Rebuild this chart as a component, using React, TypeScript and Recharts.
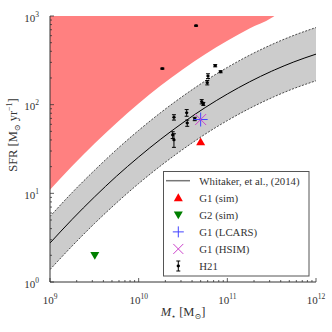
import React from 'react';
import { ComposedChart, Area, Line, Scatter, XAxis, YAxis, ErrorBar, Legend } from 'recharts';

// ---- Data ----
const massGrid = [1e9, 1.778e9, 3.162e9, 5.623e9, 1e10, 1.778e10, 3.162e10, 5.623e10, 1e11, 1.778e11, 3.162e11, 3.39e11, 5.623e11, 1e12];
const whitakerMid = [2.75, 5.09, 9.07, 15.6, 25.7, 40.9, 62.7, 92.7, 131.8, 180.7, 238.5, 246, 303.4, 371.5];
const whitakerUpper = [5.49, 10.2, 18.1, 31.1, 51.3, 81.6, 125, 185, 263, 361, 476, 491, 605, 741];
const whitakerLower = [1.38, 2.55, 4.55, 7.8, 12.9, 20.5, 31.4, 46.5, 66.1, 90.6, 119.5, 123.3, 152, 186];
const excludedLower: (number | null)[] = [11.0, 20.3, 36.3, 62.2, 103, 164, 251, 371, 527, 723, 954, 1000, null, null];
const SFR_MAX = 1000;

const h21Mass = [4.44e10, 1.85e10, 7.3e10, 8.4e10, 6.05e10, 5.94e10, 5.14e10, 5.36e10, 2.5e10, 3.48e10, 3.53e10, 4.29e10, 2.42e10, 2.5e10];
const h21Sfr = [777, 255, 275, 235, 210, 177, 108, 102, 72, 81, 62, 69, 45.5, 40];
const h21Err = [10, 4, 8, 6, 13, 10, 6, 4, 5, 7, 5, 3, 4, 7];

const g1SimMass = [5.0e10];
const g1SimSfr = [38];
const g2SimMass = [3.2e9];
const g2SimSfr = [2.0];
const g1LcarsMass = [5.0e10];
const g1LcarsSfr = [68];
const g1HsimMass = [5.0e10];
const g1HsimSfr = [68];

const xDecades = [1e9, 1e10, 1e11];
const yDecades = [1, 10, 100];
const mult = [1, 2, 3, 4, 5, 6, 7, 8, 9];
const xTicks = [...xDecades.flatMap((d) => mult.map((m) => m * d)), 1e12];
const yTicks = [...yDecades.flatMap((d) => mult.map((m) => m * d)), 1000];

const legendLabels = ['Whitaker, et al., (2014)', 'G1 (sim)', 'G2 (sim)', 'G1 (LCARS)', 'G1 (HSIM)', 'H21'];

// ---- Tables built from the arrays ----
const curveData = massGrid.map((M, i) => ({
  M,
  mid: whitakerMid[i],
  upper: whitakerUpper[i],
  lower: whitakerLower[i],
  band: [whitakerLower[i], whitakerUpper[i]],
  red: excludedLower[i] == null ? null : [excludedLower[i], SFR_MAX],
}));
const h21Data = h21Mass.map((M, i) => ({ M, sfr: h21Sfr[i], err: h21Err[i] }));
const toPts = (ms: number[], ss: number[]) => ms.map((M, i) => ({ M, sfr: ss[i] }));

const FONT = '"Liberation Serif", "DejaVu Serif", serif';
const TXT = '#333';
const RED = '#ff0000';
const GREEN = '#007f00';
const BLUE = '#4444ff';
const MAGENTA = '#cc44cc';

const isMajor = (v: number) => Math.abs(Math.log10(v) - Math.round(Math.log10(v))) < 1e-6;
const expOf = (v: number) => Math.round(Math.log10(v));

function BottomTick(props: any) {
  const { x, y, payload } = props;
  const v = payload.value;
  const major = isMajor(v);
  const len = major ? 4 : 2;
  return (
    <g>
      <line x1={x} x2={x} y1={y} y2={y - len} stroke="#333" strokeWidth={0.8} />
      {major && (
        <text x={x} y={y + 21.5} textAnchor="middle" fontFamily={FONT} fontSize={11} fill={TXT}>
          10<tspan dy={-5} fontSize={7.5}>{expOf(v)}</tspan>
        </text>
      )}
    </g>
  );
}
function TopTick(props: any) {
  const { x, y, payload } = props;
  const len = isMajor(payload.value) ? 4 : 2;
  return <line x1={x} x2={x} y1={y} y2={y + len} stroke="#333" strokeWidth={0.8} />;
}
function LeftTick(props: any) {
  const { x, y, payload } = props;
  const v = payload.value;
  const major = isMajor(v);
  const len = major ? 4 : 2;
  return (
    <g>
      <line x1={x} x2={x + len} y1={y} y2={y} stroke="#333" strokeWidth={0.8} />
      {major && (
        <text x={x - 11} y={y + 5.5} textAnchor="end" fontFamily={FONT} fontSize={11} fill={TXT}>
          10<tspan dy={-5} fontSize={7.5}>{expOf(v)}</tspan>
        </text>
      )}
    </g>
  );
}
function RightTick(props: any) {
  const { x, y, payload } = props;
  const len = isMajor(payload.value) ? 4 : 2;
  return <line x1={x} x2={x - len} y1={y} y2={y} stroke="#333" strokeWidth={0.8} />;
}

const TriUp = ({ cx, cy, s = 4.5 }: any) => (
  <polygon points={`${cx},${cy - s} ${cx - s},${cy + s * 0.75} ${cx + s},${cy + s * 0.75}`} fill={RED} />
);
const TriDown = ({ cx, cy, s = 4.5 }: any) => (
  <polygon points={`${cx},${cy + s} ${cx - s},${cy - s * 0.75} ${cx + s},${cy - s * 0.75}`} fill={GREEN} />
);
const Plus = ({ cx, cy, s = 7 }: any) => (
  <g stroke={BLUE} strokeWidth={1}>
    <line x1={cx - s} x2={cx + s} y1={cy} y2={cy} />
    <line x1={cx} x2={cx} y1={cy - s} y2={cy + s} />
  </g>
);
const Cross = ({ cx, cy, s = 5.5 }: any) => (
  <g stroke={MAGENTA} strokeWidth={1}>
    <line x1={cx - s} x2={cx + s} y1={cy - s} y2={cy + s} />
    <line x1={cx - s} x2={cx + s} y1={cy + s} y2={cy - s} />
  </g>
);
const Dot = ({ cx, cy }: any) => <ellipse cx={cx} cy={cy} rx={1.7} ry={1.4} fill="#000" />;

function LegendBox() {
  const rowY = (i: number) => 9.7 + i * 17.06;
  const mx = 15.3;
  return (
    <svg width={147} height={106} style={{ display: 'block' }}>
      <rect x={0.5} y={0.5} width={145.5} height={104.5} fill="#fff" stroke="#555" strokeWidth={1} />
      <line x1={3} x2={27} y1={rowY(0)} y2={rowY(0)} stroke="#777" strokeWidth={1.5} />
      <TriUp cx={mx} cy={rowY(1)} />
      <TriDown cx={mx} cy={rowY(2)} />
      <Plus cx={mx} cy={rowY(3)} s={5.5} />
      <Cross cx={mx} cy={rowY(4)} s={5} />
      <g stroke="#000" strokeWidth={1}>
        <line x1={mx} x2={mx} y1={rowY(5) - 5} y2={rowY(5) + 5} />
        <line x1={mx - 2} x2={mx + 2} y1={rowY(5) - 5} y2={rowY(5) - 5} />
        <line x1={mx - 2} x2={mx + 2} y1={rowY(5) + 5} y2={rowY(5) + 5} />
      </g>
      <Dot cx={mx} cy={rowY(5)} />
      {legendLabels.map((t, i) => (
        <text key={t} x={36.3} y={rowY(i) + 3.8} fontFamily={FONT} fontSize={10.8} fill={TXT}>
          {t}
        </text>
      ))}
    </svg>
  );
}

export default function App() {
  return (
    <div style={{ position: 'fixed', left: 0, top: 0, width: 332, height: 332, background: '#fff' }}>
      <ComposedChart width={332} height={332} data={curveData} margin={{ top: 16, right: 16, left: 0, bottom: 0 }}>
        <Area dataKey="red" type="monotone" fill="#ff8080" fillOpacity={1} stroke="none" isAnimationActive={false} dot={false} activeDot={false} />
        <Area dataKey="band" type="monotone" fill="#cccccc" fillOpacity={1} stroke="none" isAnimationActive={false} dot={false} activeDot={false} />
        <Line dataKey="upper" type="monotone" stroke="#222" strokeWidth={0.8} strokeDasharray="2 1.5" dot={false} activeDot={false} isAnimationActive={false} />
        <Line dataKey="lower" type="monotone" stroke="#222" strokeWidth={0.8} strokeDasharray="2 1.5" dot={false} activeDot={false} isAnimationActive={false} />
        <Line dataKey="mid" type="monotone" stroke="#000" strokeWidth={1} dot={false} activeDot={false} isAnimationActive={false} />
        <Scatter data={h21Data} dataKey="sfr" shape={(p: any) => <Dot cx={p.cx} cy={p.cy} />} isAnimationActive={false}>
          <ErrorBar dataKey="err" direction="y" width={2} stroke="#000" strokeWidth={1} isAnimationActive={false} />
        </Scatter>
        <Scatter data={toPts(g1SimMass, g1SimSfr)} dataKey="sfr" shape={(p: any) => <TriUp cx={p.cx} cy={p.cy} />} isAnimationActive={false} />
        <Scatter data={toPts(g2SimMass, g2SimSfr)} dataKey="sfr" shape={(p: any) => <TriDown cx={p.cx} cy={p.cy} />} isAnimationActive={false} />
        <Scatter data={toPts(g1LcarsMass, g1LcarsSfr)} dataKey="sfr" shape={(p: any) => <Plus cx={p.cx} cy={p.cy} />} isAnimationActive={false} />
        <Scatter data={toPts(g1HsimMass, g1HsimSfr)} dataKey="sfr" shape={(p: any) => <Cross cx={p.cx} cy={p.cy} />} isAnimationActive={false} />

        <XAxis
          dataKey="M"
          type="number"
          scale="log"
          domain={[1e9, 1e12]}
          allowDataOverflow
          ticks={xTicks}
          interval={0}
          height={50}
          tickSize={0}
          tickMargin={0}
          tick={<BottomTick />}
          tickLine={false}
          axisLine={{ stroke: '#333', strokeWidth: 1 }}
          label={{
            content: () => (
              <text x={183} y={316} textAnchor="middle" fontFamily={FONT} fontSize={12.5} fill={TXT}>
                <tspan fontStyle="italic">M</tspan>
                <tspan dy={3} fontSize={8}>⋆</tspan>
                <tspan dy={-3}> [M</tspan>
                <tspan dy={3} fontSize={8}>⊙</tspan>
                <tspan dy={-3}>]</tspan>
              </text>
            ),
          }}
        />
        <XAxis
          xAxisId="top"
          dataKey="M"
          orientation="top"
          type="number"
          scale="log"
          domain={[1e9, 1e12]}
          allowDataOverflow
          ticks={xTicks}
          interval={0}
          height={0}
          tickSize={0}
          tickMargin={0}
          tick={<TopTick />}
          tickLine={false}
          axisLine={{ stroke: '#333', strokeWidth: 1 }}
        />
        <YAxis
          type="number"
          scale="log"
          domain={[1, 1000]}
          allowDataOverflow
          ticks={yTicks}
          interval={0}
          width={50}
          tickSize={0}
          tickMargin={0}
          tick={<LeftTick />}
          tickLine={false}
          axisLine={{ stroke: '#333', strokeWidth: 1 }}
          label={{
            content: () => (
              <text transform="translate(17,135) rotate(-90)" textAnchor="middle" fontFamily={FONT} fontSize={12.5} fill={TXT}>
                SFR [M
                <tspan dy={3} fontSize={8}>⊙</tspan>
                <tspan dy={-3}> yr</tspan>
                <tspan dy={-5} fontSize={8}>−1</tspan>
                <tspan dy={5}>]</tspan>
              </text>
            ),
          }}
        />
        <YAxis
          yAxisId="right"
          orientation="right"
          type="number"
          scale="log"
          domain={[1, 1000]}
          allowDataOverflow
          ticks={yTicks}
          interval={0}
          width={0}
          tickSize={0}
          tickMargin={0}
          tick={<RightTick />}
          tickLine={false}
          axisLine={{ stroke: '#333', strokeWidth: 1 }}
        />
        <Legend
          layout="vertical"
          align="center"
          verticalAlign="middle"
          wrapperStyle={{ position: 'absolute', left: 163, top: 171, width: 147, height: 106 }}
          content={() => <LegendBox />}
        />
      </ComposedChart>
    </div>
  );
}
